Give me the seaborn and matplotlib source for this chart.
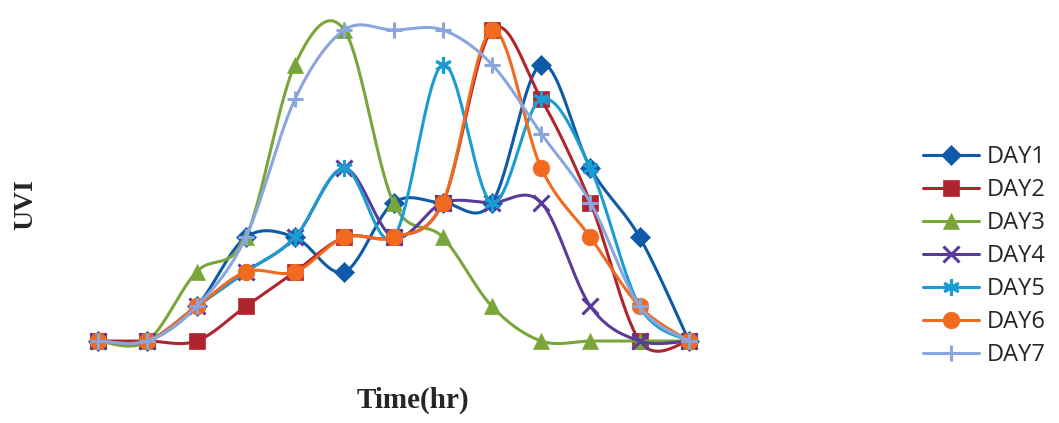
import numpy as np
import pandas as pd
import seaborn as sns
import matplotlib.pyplot as plt
from matplotlib.lines import Line2D

# hourly readings, 13 time steps
hours = list(range(13))
day1 = [0, 0, 1, 3, 3, 2, 4, 4, 4, 8, 5, 3, 0]
day2 = [0, 0, 0, 1, 2, 3, 3, 4, 9, 7, 4, 0, 0]
day3 = [0, 0, 2, 3, 8, 9, 4, 3, 1, 0, 0, 0, 0]
day4 = [0, 0, 1, 2, 3, 5, 3, 4, 4, 4, 1, 0, 0]
day5 = [0, 0, 1, 2, 3, 5, 3, 8, 4, 7, 5, 1, 0]
day6 = [0, 0, 1, 2, 2, 3, 3, 4, 9, 5, 3, 1, 0]
day7 = [0, 0, 1, 3, 7, 9, 9, 9, 8, 6, 4, 1, 0]
labels = ['DAY1', 'DAY2', 'DAY3', 'DAY4', 'DAY5', 'DAY6', 'DAY7']
series = [day1, day2, day3, day4, day5, day6, day7]

colors = ['#0f5aa8', '#b0252d', '#7aa53a', '#5a3b9b', '#1b9dd3', '#f26a1f', '#8aa6dc']
markers = ['D', 's', '^', 'x', (6, 2, 0), 'o', '+']
msizes = [10, 11.5, 12, 11, 12, 12, 12]


def smooth(x, y, n=30):
    # excel-like smoothed line (catmull-rom bezier)
    x = np.asarray(x, float)
    y = np.asarray(y, float)
    px = np.concatenate([[x[0]], x, [x[-1]]])
    py = np.concatenate([[y[0]], y, [y[-1]]])
    t = np.linspace(0, 1, n)[:, None]
    outx, outy = [], []
    for i in range(1, len(px) - 2):
        p0 = np.array([px[i], py[i]])
        p3 = np.array([px[i + 1], py[i + 1]])
        p1 = p0 + (np.array([px[i + 1], py[i + 1]]) - np.array([px[i - 1], py[i - 1]])) / 6
        p2 = p3 - (np.array([px[i + 2], py[i + 2]]) - np.array([px[i], py[i]])) / 6
        pts = ((1 - t) ** 3) * p0 + 3 * ((1 - t) ** 2) * t * p1 + 3 * (1 - t) * t ** 2 * p2 + t ** 3 * p3
        outx.extend(pts[:, 0])
        outy.extend(pts[:, 1])
    return outx, outy


rows = []
for lab, vals in zip(labels, series):
    sx, sy = smooth(hours, vals)
    for i, (a, b) in enumerate(zip(sx, sy)):
        rows.append({'day': lab, 'i': i, 'x': a, 'y': b})
curves = pd.DataFrame(rows)

sns.set_style('white')
fig = plt.figure(figsize=(10.59, 4.23), dpi=100)
ax = fig.add_axes([73.4 / 1059, 1 - 358.3 / 423, (713.6 - 73.4) / 1059, (358.3 - 12.7) / 423])

handles = []
for lab, vals, c, m, ms in zip(labels, series, colors, markers, msizes):
    sns.lineplot(data=curves[curves.day == lab], x='x', y='y', sort=False,
                 color=c, lw=2.2, ax=ax, legend=False)
    mew = 2.2 if m in ('x', '+') or isinstance(m, tuple) else 0.5
    ax.plot(hours, vals, linestyle='', marker=m, ms=ms, color=c, mec=c, mew=mew)
    handles.append(Line2D([], [], color=c, lw=2.2, marker=m, ms=ms, mec=c, mew=mew))

ax.set_xlim(-0.5, 12.5)
ax.set_ylim(-0.5, 9.5)
ax.set_xticks([])
ax.set_yticks([])
ax.set_xlabel('')
ax.set_ylabel('')
for sp in ax.spines.values():
    sp.set_visible(False)
ax.patch.set_alpha(0)

fig.text(26 / 1059, 1 - 205 / 423, 'UVI', rotation=90, ha='center', va='center',
         family='Liberation Serif', weight='bold', fontsize=20)
fig.text(413 / 1059, 1 - 400 / 423, 'Time(hr)', ha='center', va='center',
         family='Liberation Serif', weight='bold', fontsize=21)

fig.legend(handles=handles, labels=labels, loc='center left',
           bbox_to_anchor=(911 / 1059, 1 - 256 / 423), frameon=False,
           prop={'family': 'Open Sans', 'size': 17}, handlelength=2.4,
           labelspacing=0.38, handletextpad=0.3, borderpad=0)

fig.savefig('out.png', dpi=100)
